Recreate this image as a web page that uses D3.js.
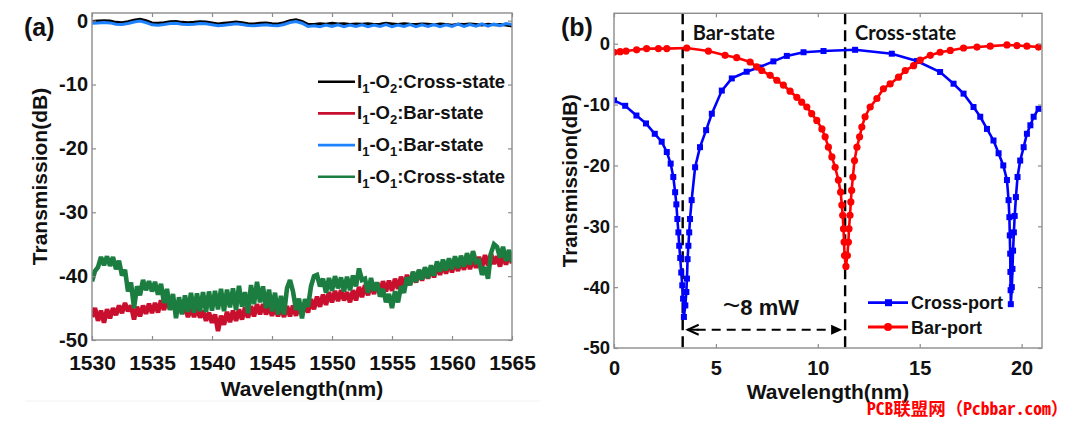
<!DOCTYPE html>
<html><head><meta charset="utf-8">
<script src="https://cdn.jsdelivr.net/npm/d3@7"></script>
<style>body{margin:0;background:#fff}svg{display:block}</style>
</head><body><div id="chart"></div>
<script>
// ---------- DATA: panel (a) ----------
const wlStartA = 1530;
const wlStepCoarse = 0.5;   // sampling of the near-0 dB traces
const wlStepFine = 0.25;    // sampling of the noisy -40 dB traces
const crossI1O2 = [ // black, 1530..1565 step 0.5
 -0.1,-0.05, 0.0,-0.05, -0.25,-0.3, -0.15,0.1, 0.25,0.0, -0.35,-0.4, -0.3,-0.15, -0.1,-0.25,
 -0.3,-0.25, -0.15,-0.2, -0.35,-0.5, -0.4,-0.3, -0.2,-0.3, -0.45,-0.5, -0.4,-0.35, -0.45,-0.5,
 -0.3,0.0, 0.15,-0.1, -0.55,-0.6, -0.45,-0.55, -0.4,-0.5, -0.45,-0.6, -0.5,-0.55, -0.45,-0.6,
 -0.55,-0.4, -0.5,-0.6, -0.45,-0.55, -0.6,-0.5, -0.55,-0.65, -0.5,-0.6, -0.7,-0.55, -0.6,-0.5,
 -0.6,-0.7, -0.55,-0.65, -0.6,-0.7, -0.85];
const barI1O1 = [ // light blue, 1530..1565 step 0.5
 -0.4,-0.35, -0.3,-0.35, -0.55,-0.6, -0.45,-0.2, -0.05,-0.3, -0.65,-0.7, -0.6,-0.45, -0.4,-0.55,
 -0.6,-0.55, -0.45,-0.5, -0.65,-0.8, -0.7,-0.6, -0.5,-0.6, -0.75,-0.8, -0.7,-0.65, -0.75,-0.8,
 -0.6,-0.3, -0.15,-0.4, -0.9,-0.8, -0.95,-0.7, -0.9,-0.65, -0.95,-0.7, -0.9,-0.65, -0.95,-0.7,
 -0.9,-0.6, -0.95,-0.7, -0.9,-0.6, -0.95,-0.65, -0.9,-0.6, -0.95,-0.65, -0.9,-0.55, -0.9,-0.6,
 -0.85,-0.5, -0.85,-0.55, -0.8,-0.45, -0.6];
const barI1O2 = [ // red, 1530..1565 step 0.25
 -46.4,-45.0,-47.0,-45.4, -47.3,-45.2,-46.6,-45.0, -46.1,-44.6,-45.8,-44.2, -45.5,-44.6,-46.8,-44.8,
 -46.3,-44.6,-45.9,-44.3, -45.8,-44.2,-45.7,-43.8, -45.3,-43.6,-45.2,-44.0, -45.6,-44.2,-45.8,-44.8,
 -46.4,-44.8,-46.4,-44.9, -46.5,-45.4,-47.0,-45.7, -47.3,-46.0,-48.6,-46.2, -47.6,-45.6,-47.2,-45.4,
 -47.0,-45.2,-46.8,-44.9, -46.5,-44.7,-46.3,-44.4, -46.0,-44.4,-46.0,-44.6, -46.2,-44.7,-46.3,-44.8,
 -46.4,-44.7,-46.3,-44.6, -46.2,-44.5,-46.1,-44.1, -45.7,-43.6,-45.2,-43.2, -44.8,-42.9,-44.5,-42.5,
 -44.1,-42.3,-43.9,-42.2, -43.8,-42.5,-44.1,-42.2, -43.8,-41.7,-43.3,-41.4, -43.0,-41.2,-42.8,-41.0,
 -42.6,-40.8,-42.4,-40.7, -42.3,-40.4,-42.0,-40.1, -41.7,-39.8,-41.4,-39.4, -41.0,-39.1,-40.7,-38.8,
 -40.4,-38.6,-40.2,-38.2, -39.8,-38.0,-39.6,-37.8, -39.4,-37.6,-39.2,-37.4, -39.0,-37.3,-38.9,-37.1,
 -38.7,-37.0,-38.6,-36.7, -38.3,-36.5,-38.1,-36.9, -38.5,-36.6,-38.2,-36.4, -38.0];
const crossI1O1 = [ // green, 1530..1565 step 0.25
 -40.8,-39.2,-38.6,-37.0, -38.3,-36.9,-38.4,-37.0, -38.9,-37.6,-39.9,-39.0, -42.4,-41.0,-45.0,-41.6,
 -43.0,-40.6,-42.2,-40.8, -42.4,-40.9,-42.9,-41.2, -44.2,-42.0,-45.3,-42.8, -46.6,-43.3,-46.0,-43.0,
 -45.6,-42.6,-45.7,-42.7, -45.5,-42.5,-45.6,-42.4, -45.4,-42.3,-45.2,-42.0, -45.5,-42.1,-44.9,-41.9,
 -45.3,-41.5,-44.8,-42.5, -45.8,-41.4,-44.4,-40.9, -44.1,-41.6,-45.0,-42.1, -45.5,-42.6,-46.0,-43.1,
 -46.0,-41.9,-40.6,-42.4, -45.3,-43.5,-46.6,-43.6, -44.8,-41.6,-40.0,-39.8, -41.6,-40.4,-42.6,-40.3,
 -42.3,-40.0,-41.9,-40.2, -42.4,-40.1,-42.2,-39.9, -41.6,-38.8,-40.6,-40.4, -42.6,-40.3,-42.3,-41.0,
 -43.2,-42.0,-44.1,-42.8, -45.0,-42.4,-44.1,-41.6, -42.6,-40.2,-41.4,-39.3, -40.9,-39.0,-40.5,-38.6,
 -40.3,-38.3,-39.9,-37.7, -39.3,-37.4,-39.1,-37.2, -38.9,-36.9,-38.7,-36.8, -38.5,-36.4,-38.2,-36.1,
 -37.8,-37.6,-39.8,-38.6, -40.4,-36.4,-35.0,-35.4, -37.1,-35.4,-37.6,-35.9, -37.8];
const legendA = ["I1-O2:Cross-state", "I1-O2:Bar-state", "I1-O1:Bar-state", "I1-O1:Cross-state"];
const ticksXA = [1530, 1535, 1540, 1545, 1550, 1555, 1560, 1565];
const ticksYA = [-50, -40, -30, -20, -10, 0];

// ---------- DATA: panel (b) ----------
const crossPortWl = [0,0.55,1.1,1.57,2.0,2.34,2.59,2.78,2.91,3.0,3.06,3.11,3.16,3.2,3.25,3.3,3.35,3.39,3.43,
 3.5,3.55,3.58,3.61,3.65,3.69,3.73,3.81,3.98,4.22,4.52,4.8,5.29,5.78,6.51,7.09,7.82,8.48,9.3,10.28,11.83,
 13.63,14.86,16.0,16.66,17.15,17.64,17.97,18.3,18.62,18.87,19.1,19.28,19.36,19.4,19.42,19.44,19.45,19.46,19.47,
 19.52,19.55,19.58,19.62,19.66,19.72,19.8,19.93,20.1,20.26,20.43,20.59,20.83];
const crossPortDb = [-9.3,-10.2,-11.8,-13.1,-14.8,-16.1,-17.8,-19.7,-21.9,-24.4,-26.4,-28.8,-31.0,-33.2,-35.2,-37.6,-39.7,-41.9,-44.9,
 -43.0,-40.8,-38.6,-35.4,-33.2,-31.0,-28.8,-25.7,-20.3,-17.0,-14.2,-11.5,-7.7,-5.7,-4.6,-3.9,-2.9,-2.0,-1.4,-1.2,-1.0,
 -1.64,-2.85,-4.65,-6.57,-8.2,-10.4,-12.0,-14.0,-15.9,-18.0,-20.0,-22.4,-25.7,-28.5,-31.5,-34.5,-37.5,-40.5,-42.8,
 -40.0,-37.0,-34.0,-31.0,-28.3,-25.2,-21.9,-19.2,-17.0,-14.8,-13.4,-12.0,-10.7];
const barPortWl = [0,0.3,0.59,1.11,1.6,2.18,2.59,3.57,4.63,5.45,6.02,6.68,7.0,7.25,7.66,7.99,8.31,8.64,8.97,9.21,9.46,9.7,9.95,
 10.2,10.36,10.52,10.69,10.85,11.01,11.12,11.18,11.22,11.26,11.29,11.31,11.38,11.45,11.5,11.53,11.58,11.62,11.66,11.72,11.8,
 11.92,12.05,12.16,12.32,12.57,12.9,13.22,13.55,13.96,14.29,14.7,15.02,15.52,16.0,16.5,17.15,17.81,18.46,19.28,19.77,20.26,20.83];
const barPortDb = [-1.4,-1.3,-1.2,-1.0,-0.8,-0.8,-0.8,-0.7,-1.2,-1.9,-2.3,-3.0,-3.8,-4.4,-5.2,-6.0,-6.8,-7.8,-8.8,-9.6,-10.4,-11.5,-12.6,
 -14.0,-15.3,-17.0,-18.6,-20.3,-22.4,-24.4,-26.5,-28.2,-30.4,-32.6,-34.8,-36.6,-34.8,-32.6,-30.4,-28.2,-26.0,-24.1,-21.9,-19.2,
 -17.0,-15.3,-13.7,-12.0,-10.4,-9.0,-7.4,-6.6,-5.5,-4.4,-3.6,-2.7,-1.9,-1.4,-1.1,-0.7,-0.55,-0.4,-0.2,-0.3,-0.4,-0.55];
const stateWl = [3.37, 11.34];
const stateLabels = ["Bar-state", "Cross-state"];
const arrowDb = -47;
const powerLabel = ["~", "8 mW"];
const legendB = ["Cross-port", "Bar-port"];
const ticksXB = [0, 5, 10, 15, 20];
const ticksYB = [-50, -40, -30, -20, -10, 0];
const watermark = "PCB联盟网（Pcbbar.com）";

// ---------- STYLES ----------
const colorsA = ["#000000", "#c8102e", "#1e82ff", "#1b7d40"];
const colorsB = ["#0000ff", "#ff0000"];
const FONT = "'Liberation Sans', Arial, sans-serif";
const AXIS_GRAY = "#8c8c8c";

const svg = d3.select("#chart").append("svg").attr("width", 1080).attr("height", 424)
  .style("background", "#fff").attr("font-family", FONT);

// faint scan line
svg.append("line").attr("x1", 25).attr("x2", 540).attr("y1", 401).attr("y2", 401)
  .attr("stroke", "#f2f2f2").attr("stroke-width", 1);

const fmt = d => String(d);

function frame(x, y, xt, yt, opts) {
  const [x0, x1] = x.range(), [y0, y1] = y.range();
  const g = svg.append("g");
  const bottom = g.append("g").attr("transform", `translate(0,${y0})`)
    .call(d3.axisBottom(x).tickValues(xt).tickSizeInner(-4).tickSizeOuter(0).tickPadding(opts.xPad).tickFormat(fmt));
  bottom.selectAll("text").attr("font-size", opts.xFont).attr("font-weight", "bold").attr("fill", "#111").attr("font-family", FONT);
  const left = g.append("g").attr("transform", `translate(${x0},0)`)
    .call(d3.axisLeft(y).tickValues(yt).tickSizeInner(-4).tickSizeOuter(0).tickPadding(opts.yPad).tickFormat(fmt));
  left.selectAll("text").attr("font-size", opts.yFont).attr("font-weight", "bold").attr("fill", "#111").attr("font-family", FONT);
  const top = g.append("g").attr("transform", `translate(0,${y1})`)
    .call(d3.axisTop(x).tickValues(xt).tickSizeInner(-4).tickSizeOuter(0));
  top.selectAll("text").remove();
  const right = g.append("g").attr("transform", `translate(${x1},0)`)
    .call(d3.axisRight(y).tickValues(yt).tickSizeInner(-4).tickSizeOuter(0));
  right.selectAll("text").remove();
  g.selectAll(".domain").remove();
  g.selectAll(".tick line").attr("stroke", AXIS_GRAY).attr("stroke-width", 1.2);
  g.append("rect").attr("x", x0).attr("y", y1).attr("width", x1 - x0).attr("height", y0 - y1)
    .attr("fill", "none").attr("stroke", AXIS_GRAY).attr("stroke-width", 1.4);
  g.append("text").attr("x", (x0 + x1) / 2).attr("y", opts.xTitleY).attr("text-anchor", "middle")
    .attr("font-size", 21).attr("font-weight", "bold").attr("fill", "#111").text("Wavelength(nm)");
  g.append("text").attr("transform", `translate(${opts.yTitleX},${(y0 + y1) / 2}) rotate(-90)`)
    .attr("text-anchor", "middle").attr("font-size", opts.yTitleFont).attr("font-weight", "bold").attr("fill", "#111")
    .text("Transmission(dB)");
  return g;
}

// ================= PANEL (a) =================
const xA = d3.scaleLinear().domain([1530, 1565]).range([92, 512]);
const yA = d3.scaleLinear().domain([-50, 1.2]).range([340, 13]);
svg.append("clipPath").attr("id", "clipA").append("rect")
  .attr("x", 92).attr("y", 13).attr("width", 420).attr("height", 327);

const seriesA = [
  {vals: crossI1O2, step: wlStepCoarse, w: 2.8},
  {vals: barI1O2, step: wlStepFine, w: 4.6},
  {vals: barI1O1, step: wlStepCoarse, w: 3.0},
  {vals: crossI1O1, step: wlStepFine, w: 4.6}
];
const lineA = d3.line().x(d => xA(d[0])).y(d => yA(d[1]));
const gA = svg.append("g").attr("clip-path", "url(#clipA)");
seriesA.forEach((s, i) => {
  const pts = s.vals.map((v, k) => [wlStartA + k * s.step, v]);
  gA.append("path").attr("d", lineA(pts)).attr("fill", "none")
    .attr("stroke", colorsA[i]).attr("stroke-width", s.w).attr("stroke-linejoin", "miter").attr("stroke-miterlimit", 2);
});
frame(xA, yA, ticksXA, ticksYA, {xPad: 15, yPad: 4, xFont: 21, yFont: 20, xTitleY: 396, yTitleX: 47, yTitleFont: 21});

svg.append("text").attr("x", 24).attr("y", 36).attr("font-size", 25).attr("font-weight", "bold")
  .attr("fill", "#111").text("(a)");

// legend (a)
const legA = svg.append("g");
legendA.forEach((lab, i) => {
  const cy = 81.7 + i * 31.7;
  legA.append("line").attr("x1", 318).attr("x2", 355).attr("y1", cy).attr("y2", cy)
    .attr("stroke", colorsA[i]).attr("stroke-width", 2.6);
  const t = legA.append("text").attr("x", 357).attr("y", cy + 6).attr("font-size", 18.5)
    .attr("font-weight", "bold").attr("fill", "#111");
  const parts = lab.split(/(\d)/).filter(p => p !== "");
  let afterSub = false;
  parts.forEach(p => {
    if (/^\d$/.test(p)) {
      t.append("tspan").attr("font-size", 13).attr("dy", 5).text(p);
      afterSub = true;
    } else {
      const ts = t.append("tspan").text(p);
      if (afterSub) ts.attr("dy", -5);
      afterSub = false;
    }
  });
});

// ================= PANEL (b) =================
const xB = d3.scaleLinear().domain([0, 21]).range([614, 1042]);
const yB = d3.scaleLinear().domain([-50, 5]).range([348, 13.3]);
svg.append("clipPath").attr("id", "clipB").append("rect")
  .attr("x", 614).attr("y", 13.3).attr("width", 428).attr("height", 334.7);

const gB = svg.append("g");
stateWl.forEach((w, i) => {
  gB.append("line").attr("x1", xB(w)).attr("x2", xB(w)).attr("y1", yB(5)).attr("y2", yB(-50) + 4)
    .attr("stroke", "#000").attr("stroke-width", 2.4).attr("stroke-dasharray", "11,6");
  gB.append("text").attr("x", xB(w) + 10).attr("y", yB(5) + 27).attr("font-size", 20)
    .attr("font-family", "Lato, 'Open Sans', sans-serif").attr("font-weight", "bold").attr("fill", "#111")
    .text(stateLabels[i]);
});

const lineB = d3.line().x(d => xB(d[0])).y(d => yB(d[1]));
const cross = crossPortWl.map((w, k) => [w, crossPortDb[k]]);
const bar = barPortWl.map((w, k) => [w, barPortDb[k]]);
const gBd = svg.append("g").attr("clip-path", "url(#clipB)");
gBd.append("path").attr("d", lineB(cross)).attr("fill", "none").attr("stroke", colorsB[0]).attr("stroke-width", 2.6);
gBd.selectAll("rect.m").data(cross).join("rect").attr("class", "m")
  .attr("x", d => xB(d[0]) - 3).attr("y", d => yB(d[1]) - 3).attr("width", 6).attr("height", 6).attr("fill", colorsB[0]);
gBd.append("path").attr("d", lineB(bar)).attr("fill", "none").attr("stroke", colorsB[1]).attr("stroke-width", 2.6);
gBd.selectAll("circle.m").data(bar).join("circle").attr("class", "m")
  .attr("cx", d => xB(d[0])).attr("cy", d => yB(d[1])).attr("r", 3.6).attr("fill", colorsB[1]);

frame(xB, yB, ticksXB, ticksYB, {xPad: 13, yPad: 4, xFont: 20, yFont: 18.5, xTitleY: 399, yTitleX: 577, yTitleFont: 20.5});

svg.append("text").attr("x", 561).attr("y", 36).attr("font-size", 25).attr("font-weight", "bold")
  .attr("fill", "#111").text("(b)");

// arrow
const ax0 = xB(stateWl[0]), ax1 = xB(stateWl[1]), ay = yB(arrowDb);
gB.append("line").attr("x1", ax0 + 14).attr("x2", ax1 - 14).attr("y1", ay).attr("y2", ay)
  .attr("stroke", "#000").attr("stroke-width", 2.2).attr("stroke-dasharray", "9,6");
gB.append("path").attr("d", `M${ax0 + 16},${ay - 5} L${ax0 + 5},${ay} L${ax0 + 16},${ay + 5}`)
  .attr("fill", "none").attr("stroke", "#000").attr("stroke-width", 2);
gB.append("line").attr("x1", ax0 + 5).attr("x2", ax0 + 16).attr("y1", ay).attr("y2", ay).attr("stroke", "#000").attr("stroke-width", 2);
gB.append("path").attr("d", `M${ax1 - 14},${ay - 5} L${ax1 - 3},${ay} L${ax1 - 14},${ay + 5} Z`)
  .attr("fill", "#000");
const pl = gB.append("text").attr("x", (ax0 + ax1) / 2 - 3).attr("y", yB(-44.6)).attr("text-anchor", "middle")
  .attr("font-size", 22).attr("font-weight", "bold").attr("fill", "#111");
pl.append("tspan").attr("font-size", 30).attr("font-weight", "normal").text(powerLabel[0]);
pl.append("tspan").text(powerLabel[1]);

// legend (b)
const legB = svg.append("g");
legendB.forEach((lab, i) => {
  const cy = 302.7 + i * 24.3;
  legB.append("line").attr("x1", 868).attr("x2", 908).attr("y1", cy).attr("y2", cy)
    .attr("stroke", colorsB[i]).attr("stroke-width", 2.8);
  if (i === 0) legB.append("rect").attr("x", 885).attr("y", cy - 3.5).attr("width", 7).attr("height", 7).attr("fill", colorsB[i]);
  else legB.append("circle").attr("cx", 888).attr("cy", cy).attr("r", 4).attr("fill", colorsB[i]);
  legB.append("text").attr("x", 911).attr("y", cy + 6.5).attr("font-size", 18).attr("font-weight", "bold")
    .attr("fill", "#111").text(lab);
});

// watermark
svg.append("text").attr("x", 867).attr("y", 415).attr("font-size", 17.5).attr("font-weight", "bold")
  .attr("font-family", "'Noto Sans Mono CJK SC', 'Noto Sans CJK SC', 'DejaVu Sans Mono', monospace")
  .attr("fill", "#ff0000").text(watermark);
</script>
</body></html>
